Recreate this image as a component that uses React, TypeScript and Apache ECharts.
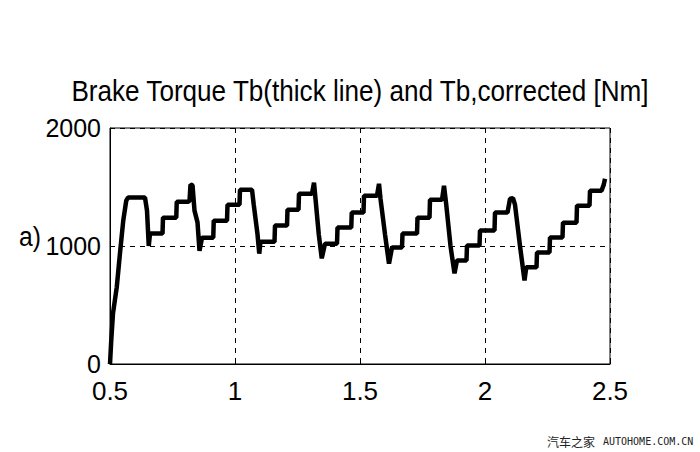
import React, { useEffect, useRef } from "react";
import * as echarts from "echarts";

const title = "Brake Torque Tb(thick line) and Tb,corrected [Nm]";
const xTicks = [0.5, 1, 1.5, 2, 2.5];
const yTicks = [0, 1000, 2000];
const panelLabel = "a)";
const watermarkCn = "汽车之家";
const watermarkEn = "AUTOHOME.COM.CN";

const time = [
  0.5, 0.505, 0.512, 0.527, 0.54, 0.553, 0.565, 0.572, 0.64, 0.648, 0.655, 0.66, 0.71, 0.712, 0.765, 0.767,
  0.81, 0.818, 0.822, 0.83, 0.838, 0.85, 0.858, 0.868, 0.913, 0.915, 0.968, 0.97, 1.018, 1.02, 1.068, 1.075,
  1.09, 1.097, 1.102, 1.158, 1.16, 1.208, 1.21, 1.254, 1.256, 1.308, 1.316, 1.322, 1.335, 1.347, 1.36, 1.408,
  1.41, 1.465, 1.467, 1.514, 1.516, 1.568, 1.576, 1.582, 1.6, 1.616, 1.628, 1.668, 1.67, 1.728, 1.73, 1.778,
  1.78, 1.828, 1.836, 1.845, 1.862, 1.878, 1.888, 1.926, 1.928, 1.978, 1.98, 2.038, 2.04, 2.09, 2.1, 2.112,
  2.12, 2.14, 2.158, 2.165, 2.206, 2.208, 2.258, 2.26, 2.31, 2.312, 2.366, 2.368, 2.418, 2.42, 2.466, 2.475,
  2.48,
];
const torque = [
  0, 200, 430, 650, 940, 1215, 1385, 1410, 1410, 1300, 1000, 1105, 1105, 1240, 1240, 1375,
  1375, 1380, 1520, 1515, 1300, 1200, 960, 1070, 1070, 1215, 1215, 1350, 1350, 1477, 1477, 1350,
  1100, 935, 1035, 1035, 1173, 1173, 1308, 1308, 1443, 1443, 1536, 1400, 1100, 895, 1020, 1020,
  1156, 1156, 1283, 1283, 1426, 1426, 1527, 1400, 1100, 850, 987, 987, 1105, 1105, 1240, 1240,
  1392, 1392, 1510, 1350, 1000, 768, 878, 878, 1004, 1004, 1131, 1131, 1283, 1283, 1400, 1405,
  1350, 1000, 709, 819, 819, 945, 945, 1072, 1072, 1198, 1198, 1342, 1342, 1468, 1468, 1520,
  1570,
];

const FONT = "'Liberation Sans', Arial, sans-serif";

export default function App() {
  const ref = useRef<HTMLDivElement>(null);
  useEffect(() => {
    if (!ref.current) return;
    const chart = echarts.init(ref.current, undefined, { renderer: "svg" });
    chart.setOption({
      animation: false,
      backgroundColor: "#ffffff",
      grid: { left: 110, right: 90, top: 128, bottom: 88, show: true, borderColor: "#000", borderWidth: 1 },
      xAxis: {
        type: "value",
        min: xTicks[0],
        max: xTicks[xTicks.length - 1],
        interval: 0.5,
        axisLine: { show: true, lineStyle: { color: "#000" } },
        axisTick: { show: true, inside: true, length: 4, lineStyle: { color: "#000" } },
        axisLabel: { fontFamily: FONT, fontSize: 26, color: "#000", margin: 14, formatter: (v: number) => String(v) },
        splitLine: { show: true, lineStyle: { type: [5, 5], color: "#000", width: 1 } },
      },
      yAxis: {
        type: "value",
        min: yTicks[0],
        max: yTicks[yTicks.length - 1],
        interval: 1000,
        axisLine: { show: true, lineStyle: { color: "#000" } },
        axisTick: { show: true, inside: true, length: 4, lineStyle: { color: "#000" } },
        axisLabel: { fontFamily: FONT, fontSize: 25, color: "#000", margin: 9, formatter: (v: number) => String(v) },
        splitLine: { show: true, lineStyle: { type: [5, 5], color: "#000", width: 1 } },
      },
      graphic: [
        {
          type: "text",
          x: 360,
          y: 91,
          scaleX: 0.87,
          style: {
            text: title,
            font: `30px ${FONT}`,
            fill: "#000",
            textAlign: "center",
            textVerticalAlign: "middle",
          },
        },
        {
          type: "text",
          x: 19,
          y: 236,
          scaleX: 0.88,
          style: { text: panelLabel, font: `28px ${FONT}`, fill: "#000", textAlign: "left", textVerticalAlign: "middle" },
        },
        {
          type: "text",
          x: 547,
          y: 441,
          style: {
            text: watermarkCn,
            font: "12px 'Noto Sans CJK SC', sans-serif",
            fill: "#222",
            textAlign: "left",
            textVerticalAlign: "middle",
          },
        },
        {
          type: "text",
          x: 603,
          y: 441,
          style: {
            text: watermarkEn,
            font: "10px 'DejaVu Sans Mono', 'Liberation Mono', monospace",
            fill: "#222",
            textAlign: "left",
            textVerticalAlign: "middle",
          },
        },
      ],
      series: [
        {
          type: "line",
          data: time.map((t, i) => [t, torque[i]]),
          showSymbol: false,
          lineStyle: { color: "#000", width: 4.5 },
        },
      ],
    });
    return () => chart.dispose();
  }, []);
  return <div ref={ref} style={{ position: "fixed", left: 0, top: 0, width: 700, height: 452 }} />;
}
